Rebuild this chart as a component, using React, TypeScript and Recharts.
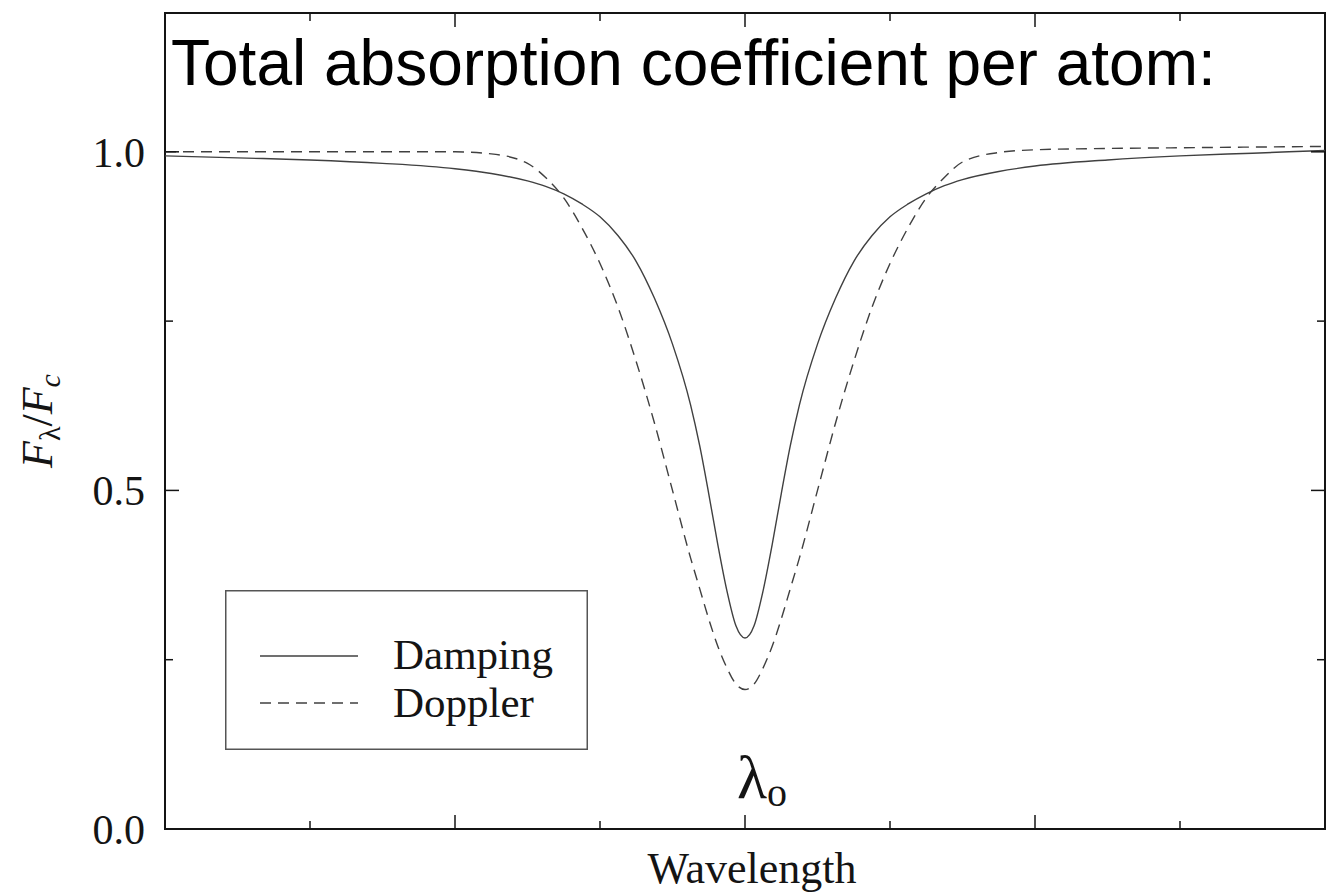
import { Legend, Line, LineChart, ReferenceArea, XAxis, YAxis } from 'recharts';

// wavelength offset from line centre (arbitrary units, centre = λo)
const wavelength = [
  -4, -3.5, -3, -2.5, -2, -1.75, -1.5, -1.375, -1.25, -1.125, -1, -0.875, -0.75, -0.625, -0.5, -0.375,
  -0.3125, -0.25, -0.1875, -0.125, -0.0625, 0, 0.0625, 0.125, 0.1875, 0.25, 0.3125, 0.375, 0.5, 0.625,
  0.75, 0.875, 1, 1.125, 1.25, 1.375, 1.5, 1.75, 2, 2.5, 3, 3.5, 4,
];

// F_lambda / F_c
const damping = [
  0.994, 0.991, 0.988, 0.983, 0.975, 0.968, 0.957, 0.949, 0.938, 0.923, 0.904, 0.876, 0.838, 0.784, 0.716,
  0.626, 0.566, 0.495, 0.42, 0.352, 0.3, 0.282, 0.3, 0.352, 0.42, 0.495, 0.566, 0.626, 0.716, 0.784, 0.838,
  0.876, 0.904, 0.923, 0.938, 0.95, 0.959, 0.971, 0.979, 0.988, 0.994, 0.998, 1.002,
];

const doppler = [
  1.0, 1.0, 1.0, 1.0, 1.0, 0.997, 0.983, 0.962, 0.932, 0.888, 0.835, 0.77, 0.69, 0.6, 0.5, 0.4, 0.355, 0.31,
  0.27, 0.238, 0.214, 0.206, 0.214, 0.238, 0.27, 0.31, 0.355, 0.4, 0.5, 0.6, 0.69, 0.77, 0.835, 0.888,
  0.932, 0.962, 0.985, 0.999, 1.003, 1.005, 1.006, 1.007, 1.008,
];

const seriesNames = ['Damping', 'Doppler'];
const yTicks = [0, 0.25, 0.5, 0.75, 1.0];
const yTickLabels = ['0.0', '', '0.5', '', '1.0'];
const xTicks = [-3, -2, -1, 0, 1, 2, 3];
const xMajorTicks = [-2, 0, 2];
const title = 'Total absorption coefficient per atom:';
const xLabel = 'Wavelength';

const CHART_W = 1332;
const CHART_H = 895;
const MARGIN = { top: 13, right: 7, bottom: 0, left: 0 };
const Y_AXIS_W = 165;
const X_AXIS_H = 66;
const PLOT_W = CHART_W - MARGIN.left - MARGIN.right - Y_AXIS_W;
const PLOT_H = CHART_H - MARGIN.top - MARGIN.bottom - X_AXIS_H;

const SERIF = '"Liberation Serif", "Times New Roman", serif';
const SANS = '"Liberation Sans", Arial, sans-serif';
const INK = '#141414';
const CURVE = '#404040';
const DASH = '11 7';

const chartData = wavelength.map((w, i) => ({
  w,
  damping: damping[i],
  doppler: doppler[i],
}));

// ticks point inwards on all four sides of the frame
function YTick({ x, y, payload }: { x: number; y: number; payload: { value: number } }) {
  const idx = yTicks.indexOf(payload.value);
  const label = yTickLabels[idx] ?? '';
  const len = label ? 14 : 8;
  return (
    <g>
      <line x1={x} x2={x + len} y1={y} y2={y} stroke={INK} strokeWidth={1.5} />
      <line x1={x + PLOT_W} x2={x + PLOT_W - len} y1={y} y2={y} stroke={INK} strokeWidth={1.5} />
      {label && (
        <text x={x - 20} y={y} dy="0.35em" textAnchor="end" fontFamily={SERIF} fontSize={42} fill={INK}>
          {label}
        </text>
      )}
    </g>
  );
}

function XTick({ x, y, payload }: { x: number; y: number; payload: { value: number } }) {
  const v = payload.value;
  const len = xMajorTicks.includes(v) ? 14 : 8;
  return (
    <g>
      <line x1={x} x2={x} y1={y} y2={y - len} stroke={INK} strokeWidth={1.5} />
      <line x1={x} x2={x} y1={y - PLOT_H} y2={y - PLOT_H + len} stroke={INK} strokeWidth={1.5} />
      {v === 0 && (
        <text x={x - 8} y={y - 31} fontFamily={SERIF} fill={INK}>
          <tspan fontSize={62}>λ</tspan>
          <tspan fontSize={40} dy={8}>o</tspan>
        </text>
      )}
    </g>
  );
}

function XLabel({ viewBox }: { viewBox?: { x: number; y: number; width: number; height: number } }) {
  if (!viewBox) return null;
  return (
    <text
      x={viewBox.x + viewBox.width / 2 + 7}
      y={viewBox.y + 54}
      textAnchor="middle"
      fontFamily={SERIF}
      fontSize={44}
      fill={INK}
    >
      {xLabel}
    </text>
  );
}

function YLabel({ viewBox }: { viewBox?: { x: number; y: number; width: number; height: number } }) {
  if (!viewBox) return null;
  const cx = 52;
  const cy = viewBox.y + viewBox.height / 2;
  return (
    <text
      x={cx}
      y={cy}
      textAnchor="middle"
      transform={`rotate(-90, ${cx}, ${cy})`}
      fontFamily={SERIF}
      fontSize={44}
      fill={INK}
    >
      <tspan fontStyle="italic">F</tspan>
      <tspan fontSize={30} dy={8}>λ</tspan>
      <tspan dy={-8}>/</tspan>
      <tspan fontStyle="italic">F</tspan>
      <tspan fontStyle="italic" fontSize={30} dy={8}>c</tspan>
    </text>
  );
}

function LegendBox() {
  const rows = [
    { name: seriesNames[0], dash: undefined },
    { name: seriesNames[1], dash: DASH },
  ];
  return (
    <svg width={363} height={160} style={{ display: 'block' }}>
      <rect x={0.75} y={0.75} width={361.5} height={158.5} fill="#fff" stroke="#555" strokeWidth={1.5} />
      {rows.map((r, i) => (
        <g key={r.name}>
          <line
            x1={35}
            x2={133}
            y1={66 + i * 47}
            y2={66 + i * 47}
            stroke={CURVE}
            strokeWidth={1.4}
            strokeDasharray={r.dash}
          />
          <text x={168} y={79 + i * 48} fontFamily={SERIF} fontSize={43} fill={INK}>
            {r.name}
          </text>
        </g>
      ))}
    </svg>
  );
}

export default function App() {
  return (
    <div style={{ position: 'absolute', left: 0, top: 0, width: CHART_W, height: CHART_H, background: '#fff' }}>
      <LineChart width={CHART_W} height={CHART_H} data={chartData} margin={MARGIN}>
        <XAxis
          dataKey="w"
          type="number"
          domain={[-4, 4]}
          allowDataOverflow
          ticks={xTicks}
          interval={0}
          height={X_AXIS_H}
          axisLine={false}
          tickLine={false}
          tickSize={0}
          tickMargin={0}
          tick={XTick}
          label={<XLabel />}
        />
        <YAxis
          type="number"
          domain={[0, 1.205]}
          allowDataOverflow
          ticks={yTicks}
          interval={0}
          width={Y_AXIS_W}
          axisLine={false}
          tickLine={false}
          tickSize={0}
          tickMargin={0}
          tick={YTick}
          label={<YLabel />}
        />
        <ReferenceArea x1={-4} x2={4} y1={0} y2={1.205} fill="none" stroke={INK} strokeWidth={2} />
        <Legend
          layout="horizontal"
          verticalAlign="middle"
          align="center"
          wrapperStyle={{ left: 225, top: 590, width: 363, height: 160 }}
          content={<LegendBox />}
        />
        <Line
          type="monotone"
          dataKey="damping"
          name={seriesNames[0]}
          stroke={CURVE}
          strokeWidth={1.4}
          dot={false}
          isAnimationActive={false}
        />
        <Line
          type="monotone"
          dataKey="doppler"
          name={seriesNames[1]}
          stroke={CURVE}
          strokeWidth={1.4}
          strokeDasharray={DASH}
          dot={false}
          isAnimationActive={false}
        />
      </LineChart>
      <svg
        width={CHART_W}
        height={120}
        style={{ position: 'absolute', left: 0, top: 0, pointerEvents: 'none' }}
      >
        <text x={171} y={85} fontFamily={SANS} fontSize={64} fill="#000">
          {title}
        </text>
      </svg>
    </div>
  );
}
